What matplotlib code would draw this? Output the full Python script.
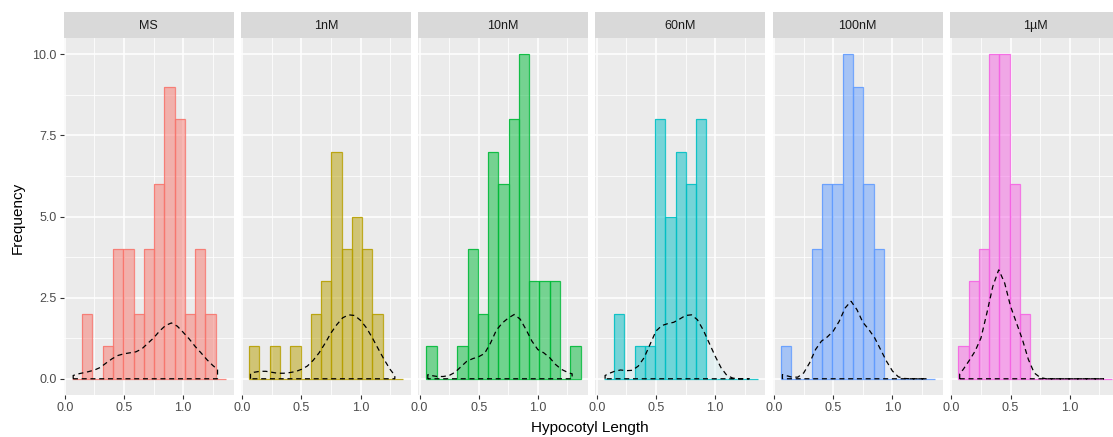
import numpy as np
import matplotlib
matplotlib.use("Agg")
import matplotlib.pyplot as plt
from matplotlib.ticker import MultipleLocator, FormatStrFormatter

plt.rcParams['font.family'] = ['Liberation Sans', 'DejaVu Sans']

# facets and their colours (ggplot default hue palette)
groups = ['MS', '1nM', '10nM', '60nM', '100nM', '1\u00b5M']
colors = ['#F8766D', '#B79F00', '#00BA38', '#00BFC4', '#619CFF', '#F564E3']

# histogram bins, shared by all panels
bin_start = 0.059
bin_width = 0.0868
counts_ms = [0, 2, 0, 1, 4, 4, 2, 4, 6, 9, 8, 2, 4, 2, 0]
counts_1nm = [1, 0, 1, 0, 1, 0, 2, 3, 7, 4, 5, 4, 2, 0, 0]
counts_10nm = [1, 0, 0, 1, 4, 2, 7, 6, 8, 10, 3, 3, 3, 0, 1]
counts_60nm = [0, 2, 0, 1, 1, 8, 5, 7, 6, 8, 0, 0, 0, 0, 0]
counts_100nm = [1, 0, 0, 4, 6, 6, 10, 9, 6, 4, 0, 0, 0, 0, 0]
counts_1um = [1, 3, 4, 10, 10, 6, 2, 0, 0, 0, 0, 0, 0, 0, 0]

# density curves
dens_x = [0.07, 0.10, 0.15, 0.20, 0.25, 0.30, 0.35, 0.40, 0.45, 0.50,
          0.55, 0.60, 0.65, 0.70, 0.75, 0.80, 0.85, 0.90, 0.95, 1.00,
          1.05, 1.10, 1.15, 1.20, 1.25, 1.29]
dens_ms = [0.10, 0.14, 0.18, 0.22, 0.27, 0.35, 0.49, 0.62, 0.72, 0.77,
           0.80, 0.83, 0.92, 1.09, 1.26, 1.47, 1.64, 1.72, 1.62, 1.43,
           1.23, 1.00, 0.80, 0.59, 0.41, 0.29]
dens_1nm = [0.16, 0.20, 0.23, 0.23, 0.20, 0.17, 0.17, 0.19, 0.22, 0.29,
            0.39, 0.57, 0.80, 1.09, 1.41, 1.67, 1.88, 1.97, 1.95, 1.80,
            1.57, 1.26, 0.92, 0.59, 0.29, 0.10]
dens_10nm = [0.13, 0.10, 0.07, 0.07, 0.10, 0.20, 0.37, 0.54, 0.62, 0.68,
             0.78, 1.10, 1.50, 1.72, 1.87, 1.98, 1.84, 1.52, 1.16, 0.90,
             0.80, 0.65, 0.44, 0.29, 0.20, 0.15]
dens_60nm = [0.10, 0.16, 0.23, 0.27, 0.25, 0.26, 0.39, 0.65, 1.06, 1.47,
             1.64, 1.70, 1.74, 1.84, 1.95, 1.97, 1.82, 1.50, 1.10, 0.70,
             0.34, 0.10, 0.02, 0.0, 0.0, 0.0]
dens_100nm = [0.13, 0.10, 0.05, 0.05, 0.18, 0.49, 0.90, 1.16, 1.29, 1.47,
              1.77, 2.18, 2.39, 2.13, 1.74, 1.52, 1.26, 0.90, 0.54, 0.24,
              0.06, 0.01, 0.0, 0.0, 0.0, 0.0]
dens_1um = [0.15, 0.29, 0.56, 0.85, 1.26, 2.03, 2.85, 3.36, 2.95, 2.23,
            1.72, 1.21, 0.60, 0.18, 0.04, 0.0, 0.0, 0.0, 0.0, 0.0,
            0.0, 0.0, 0.0, 0.0, 0.0, 0.0]

all_counts = [counts_ms, counts_1nm, counts_10nm, counts_60nm, counts_100nm, counts_1um]
all_dens = [dens_ms, dens_1nm, dens_10nm, dens_60nm, dens_100nm, dens_1um]

W, H = 1113, 437
fig = plt.figure(figsize=(W / 100, H / 100), dpi=100)
fig.patch.set_facecolor('white')

panel_w = 170
panel_step = 177.3
panel_left0 = 63.5
panel_top = 38
panel_bot = 395
strip_h = 26

edges = bin_start + bin_width * np.arange(15)

for i, (g, col) in enumerate(zip(groups, colors)):
    left = panel_left0 + i * panel_step
    ax = fig.add_axes([left / W, 1 - panel_bot / H, panel_w / W, (panel_bot - panel_top) / H])
    ax.set_facecolor('#EBEBEB')
    for s in ax.spines.values():
        s.set_visible(False)

    dx = np.array(dens_x)
    dy = np.array(all_dens[i])
    px = np.concatenate([[dx[0]], dx, [dx[-1]]])
    py = np.concatenate([[0], dy, [0]])
    # light density fill sits under the bars
    ax.fill(px, py, facecolor=col, alpha=0.1, edgecolor='none', zorder=1.5)
    ax.fill(px, py, facecolor='white', alpha=0.3, edgecolor='none', zorder=1.5)

    ax.bar(edges, all_counts[i], width=bin_width, align='edge',
           color=col, alpha=0.5, edgecolor='none', zorder=2)
    ax.bar(edges, all_counts[i], width=bin_width, align='edge',
           facecolor='none', edgecolor=col, linewidth=0.9, alpha=0.85, zorder=3)

    ax.fill(px, py, facecolor='none', edgecolor='black', linestyle=(0, (4, 3)),
            linewidth=0.9, zorder=5)

    ax.set_xlim(-0.012, 1.425)
    ax.set_ylim(-0.5, 10.5)
    ax.xaxis.set_major_locator(MultipleLocator(0.5))
    ax.xaxis.set_minor_locator(MultipleLocator(0.25))
    ax.yaxis.set_major_locator(MultipleLocator(2.5))
    ax.yaxis.set_minor_locator(MultipleLocator(1.25))
    ax.xaxis.set_major_formatter(FormatStrFormatter('%.1f'))
    ax.yaxis.set_major_formatter(FormatStrFormatter('%.1f'))
    ax.grid(which='major', color='white', linewidth=1.1, zorder=0)
    ax.grid(which='minor', color='white', linewidth=0.55, zorder=0)
    ax.set_axisbelow(True)
    ax.tick_params(which='major', direction='out', length=3, width=0.8,
                   color='#333333', labelcolor='#4D4D4D', labelsize=9, pad=2)
    ax.tick_params(which='minor', length=0)
    if i > 0:
        ax.tick_params(axis='y', which='both', left=False, labelleft=False)

    sax = fig.add_axes([left / W, 1 - panel_top / H, panel_w / W, strip_h / H])
    sax.set_facecolor('#D9D9D9')
    sax.set_xticks([])
    sax.set_yticks([])
    for s in sax.spines.values():
        s.set_visible(False)
    sax.text(0.5, 0.45, g, ha='center', va='center', fontsize=9, color='#1A1A1A',
             transform=sax.transAxes)

fig.text(590 / W, 1 - 428 / H, 'Hypocotyl Length', ha='center', va='center',
         fontsize=11, color='black')
fig.text(18 / W, 1 - 218 / H, 'Frequency', ha='center', va='center',
         rotation=90, fontsize=11, color='black')

fig.savefig('out.png', dpi=100)
